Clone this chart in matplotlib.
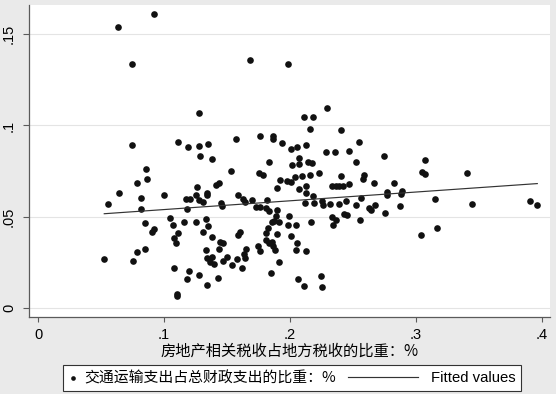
import matplotlib
matplotlib.use('Agg')
import matplotlib.pyplot as plt
import numpy as np
from matplotlib.lines import Line2D
from matplotlib.legend_handler import HandlerLine2D

# ── data ───────────────────────────────────────────────────────────
x_share = [
    0.0922, 0.0631, 0.0747, 0.1685, 0.1982, 0.1275, 0.2296, 0.2111, 0.2185, 0.2159,
    0.2403, 0.0747, 0.1110, 0.1187, 0.1279, 0.1346, 0.1285, 0.1378, 0.1571, 0.1759,
    0.1867, 0.1867, 0.1934, 0.2008, 0.2053, 0.2127, 0.2284, 0.2358, 0.2469, 0.2551,
    0.2747, 0.3070, 0.1831, 0.2074, 0.2013, 0.2074, 0.2141, 0.2177, 0.2522, 0.0856,
    0.1529, 0.3046, 0.3075, 0.3409, 0.2588, 0.2578, 0.2670, 0.2830, 0.2471, 0.2767,
    0.2773, 0.2880, 0.2892, 0.2562, 0.3156, 0.3905, 0.3965, 0.3448, 0.2675, 0.2878,
    0.2524, 0.0861, 0.0782, 0.0644, 0.0814, 0.0996, 0.0556, 0.1171, 0.1209, 0.1259,
    0.1255, 0.1279, 0.1306, 0.1343, 0.1343, 0.1432, 0.1414, 0.1452, 0.1462, 0.1589,
    0.1624, 0.1642, 0.1698, 0.1756, 0.1788, 0.1726, 0.1759, 0.1815, 0.1812, 0.1835,
    0.1894, 0.1919, 0.1976, 0.2010, 0.2036, 0.2097, 0.2155, 0.2233, 0.2408, 0.2074,
    0.2127, 0.2127, 0.2185, 0.2336, 0.2366, 0.2387, 0.2419, 0.2122, 0.2192, 0.2252,
    0.2260, 0.2315, 0.2393, 0.2445, 0.1894, 0.1891, 0.1875, 0.1913, 0.1859, 0.1990,
    0.1986, 0.2045, 0.2164, 0.2334, 0.2362, 0.2339, 0.2449, 0.2429, 0.2558, 0.2629,
    0.2644, 0.2755, 0.3041, 0.3170, 0.1046, 0.1074, 0.1112, 0.1080, 0.1094, 0.1159,
    0.1180, 0.1253, 0.1334, 0.1348, 0.1310, 0.1383, 0.1583, 0.1603, 0.1828, 0.1808,
    0.1894, 0.2006, 0.1807, 0.1833, 0.1859, 0.1865, 0.2053, 0.1746, 0.1764, 0.1881,
    0.2046, 0.2126, 0.1441, 0.1468, 0.1438, 0.1653, 0.1634, 0.1645, 0.1576, 0.1503,
    0.1466, 0.1538, 0.1616, 0.1335, 0.1339, 0.1383, 0.1364, 0.1395, 0.1915, 0.1851,
    0.1279, 0.1430, 0.1338, 0.2061, 0.2111, 0.2246, 0.2252, 0.0524, 0.0849, 0.0906,
    0.0782, 0.0848, 0.0749, 0.1078, 0.1104, 0.1106, 0.1196, 0.1182, 0.0920, 0.0816,
]
y_share = [
    0.1611, 0.1538, 0.1335, 0.1359, 0.1337, 0.1070, 0.1094, 0.1045, 0.1048, 0.0979,
    0.0973, 0.0891, 0.0907, 0.0882, 0.0887, 0.0900, 0.0832, 0.0817, 0.0927, 0.0944,
    0.0942, 0.0928, 0.0905, 0.0871, 0.0883, 0.0894, 0.0856, 0.0853, 0.0862, 0.0911,
    0.0831, 0.0812, 0.0798, 0.0821, 0.0782, 0.0787, 0.0802, 0.0795, 0.0799, 0.0759,
    0.0750, 0.0746, 0.0732, 0.0742, 0.0726, 0.0708, 0.0684, 0.0683, 0.0681, 0.0633,
    0.0621, 0.0622, 0.0639, 0.0601, 0.0595, 0.0583, 0.0566, 0.0569, 0.0563, 0.0557,
    0.0563, 0.0706, 0.0683, 0.0628, 0.0603, 0.0617, 0.0569, 0.0595, 0.0595, 0.0661,
    0.0616, 0.0589, 0.0582, 0.0631, 0.0617, 0.0686, 0.0676, 0.0572, 0.0558, 0.0616,
    0.0595, 0.0582, 0.0592, 0.0738, 0.0726, 0.0554, 0.0554, 0.0590, 0.0545, 0.0533,
    0.0658, 0.0702, 0.0694, 0.0690, 0.0720, 0.0724, 0.0727, 0.0738, 0.0724, 0.0652,
    0.0669, 0.0630, 0.0614, 0.0669, 0.0668, 0.0668, 0.0668, 0.0576, 0.0576, 0.0585,
    0.0563, 0.0568, 0.0568, 0.0588, 0.0534, 0.0506, 0.0476, 0.0470, 0.0473, 0.0501,
    0.0454, 0.0454, 0.0469, 0.0496, 0.0480, 0.0454, 0.0509, 0.0512, 0.0481, 0.0548,
    0.0536, 0.0518, 0.0397, 0.0439, 0.0493, 0.0454, 0.0411, 0.0381, 0.0355, 0.0470,
    0.0540, 0.0473, 0.0489, 0.0448, 0.0413, 0.0390, 0.0401, 0.0415, 0.0440, 0.0408,
    0.0405, 0.0391, 0.0371, 0.0353, 0.0359, 0.0339, 0.0353, 0.0339, 0.0311, 0.0315,
    0.0318, 0.0310, 0.0362, 0.0355, 0.0320, 0.0325, 0.0294, 0.0274, 0.0266, 0.0277,
    0.0257, 0.0233, 0.0217, 0.0315, 0.0273, 0.0281, 0.0251, 0.0239, 0.0249, 0.0190,
    0.0179, 0.0165, 0.0125, 0.0156, 0.0119, 0.0174, 0.0112, 0.0267, 0.0463, 0.0417,
    0.0304, 0.0320, 0.0255, 0.0219, 0.0078, 0.0065, 0.0200, 0.0155, 0.0430, 0.0543,
]

x_ticks = [0, 0.1, 0.2, 0.3, 0.4]
x_ticklabels = ['0', '.1', '.2', '.3', '.4']
y_ticks = [0, 0.05, 0.1, 0.15]
y_ticklabels = ['0', '.05', '.1', '.15']

x_title = '房地产相关税收占地方税收的比重：%'
scatter_label = '交通运输支出占总财政支出的比重：%'
fit_label = 'Fitted values'

CJK = ['Noto Sans CJK SC', 'DejaVu Sans']
LAT = ['Liberation Sans', 'DejaVu Sans']
AXC = '#5a5a5a'

# ── figure ─────────────────────────────────────────────────────────
fig = plt.figure(figsize=(5.56, 3.94), dpi=100)
fig.patch.set_facecolor('#eaeaea')
ax = fig.add_axes([29/556, 1 - 316.5/394, 521/556, 311.5/394])
ax.set_facecolor('white')

x = np.array(x_share)
y = np.array(y_share)
ax.scatter(x, y, s=23, color='#111111', linewidths=0, zorder=3,
           label=scatter_label)

# linear fit
b, a = np.polyfit(x, y, 1)
xf = np.array([x.min(), x.max()])
ax.plot(xf, a + b*xf, color='#333333', lw=0.85, zorder=4, label=fit_label)

ax.set_xlim(-0.0074, 0.4066)
ax.set_ylim(-0.0048, 0.1661)

for sp in ['top', 'right']:
    ax.spines[sp].set_visible(False)
for sp in ['left', 'bottom']:
    ax.spines[sp].set_color(AXC)
    ax.spines[sp].set_linewidth(0.9)

ax.set_xticks(x_ticks)
ax.set_xticklabels(x_ticklabels, family=LAT, fontsize=10.5)
ax.set_yticks(y_ticks)
ax.set_yticklabels(y_ticklabels, family=LAT, fontsize=10.5,
                   rotation=90, va='center')
ax.tick_params(axis='x', length=3.6, width=0.8, color=AXC, pad=5)
ax.tick_params(axis='y', length=4.3, width=0.8, color=AXC, pad=5)
ax.yaxis.grid(True, color='#e4e4e4', lw=0.8, zorder=0)
ax.set_axisbelow(True)

ax.set_xlabel(x_title, family=CJK, fontsize=11, labelpad=0)


# legend: short marker box, fitted line drawn long to the left
class LongLine(HandlerLine2D):
    def create_artists(self, legend, orig_handle, xdescent, ydescent,
                       width, height, fontsize, trans):
        yc = height/2 - ydescent
        ln = Line2D([-xdescent + width - 5.1*fontsize, -xdescent + width - 0.4*fontsize],
                    [yc, yc])
        self.update_prop(ln, orig_handle, legend)
        ln.set_transform(trans)
        return [ln]


h, l = ax.get_legend_handles_labels()
leg = fig.legend(h, l, loc='center', bbox_to_anchor=(292/556, 1 - 378/394),
                 ncol=2, handlelength=0.6, handletextpad=0.45,
                 columnspacing=5.3, borderpad=0.38, markerscale=0.7,
                 frameon=True, fancybox=False, edgecolor='#333333',
                 framealpha=1, prop={'family': CJK, 'size': 10.7},
                 handler_map={Line2D: LongLine()})
leg.get_frame().set_linewidth(0.8)
leg.get_texts()[1].set_family(LAT)

fig.savefig('out.png', dpi=100, facecolor=fig.get_facecolor())
